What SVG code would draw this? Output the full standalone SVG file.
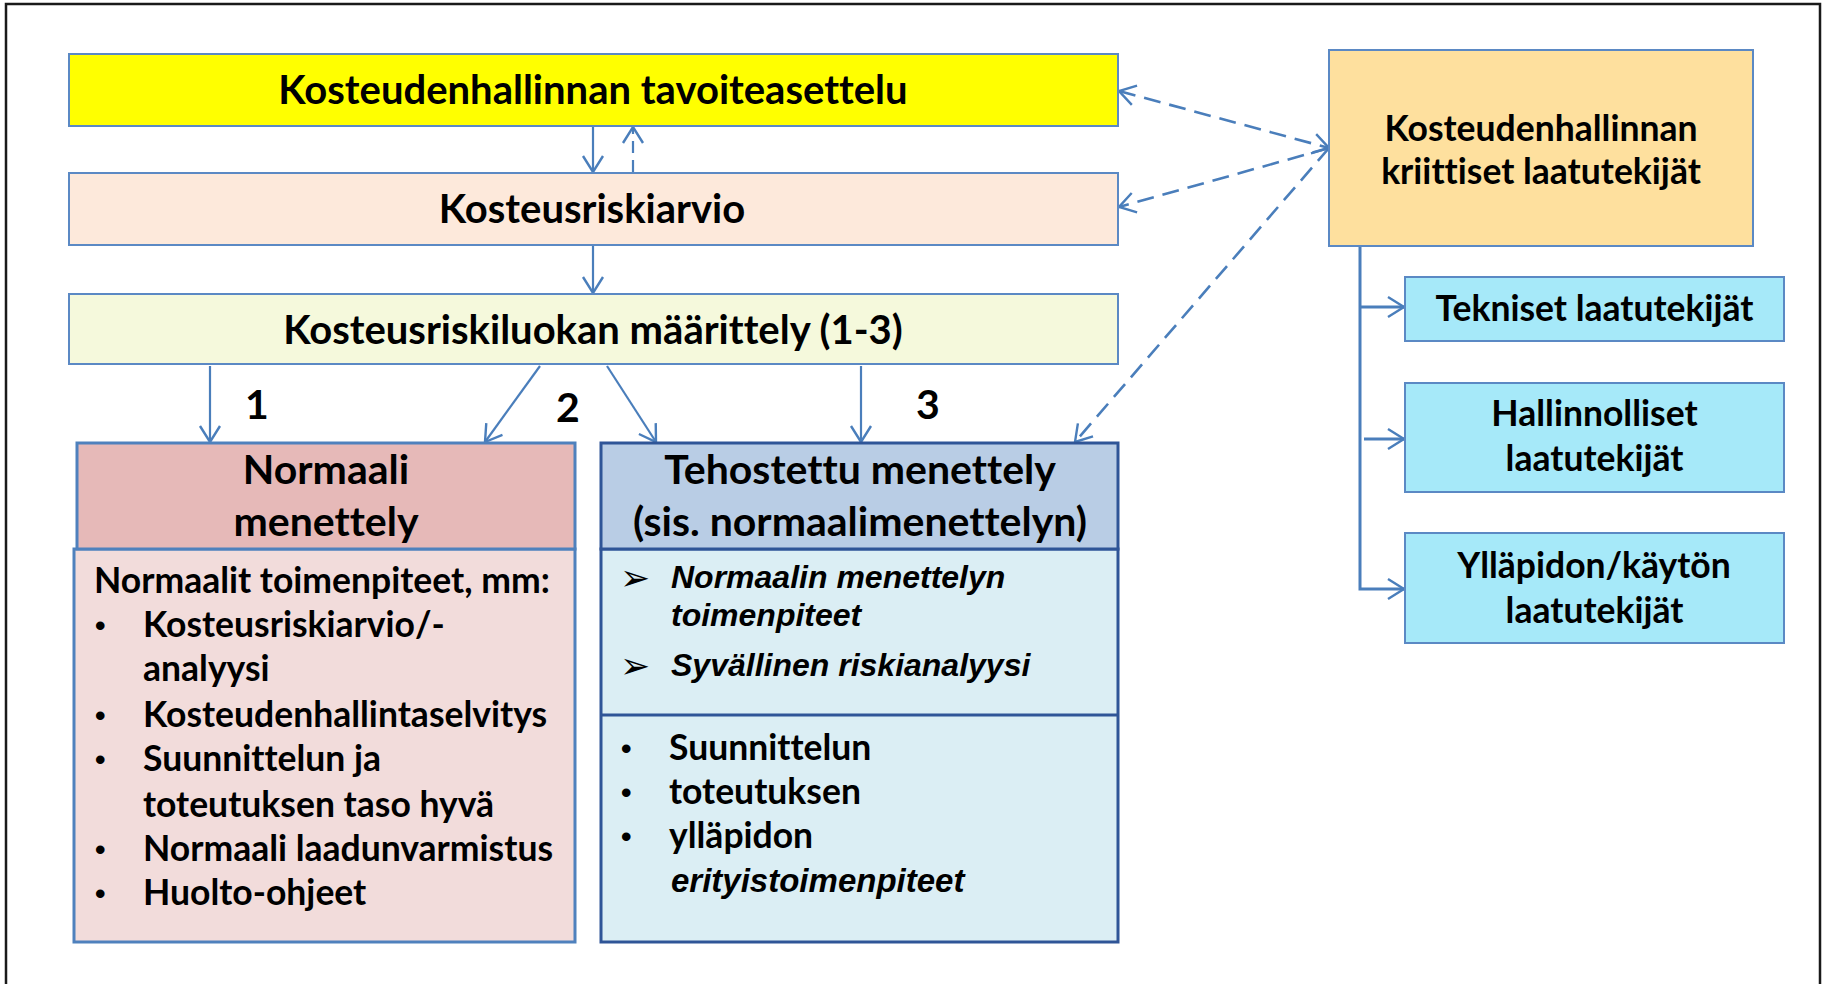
<svg xmlns="http://www.w3.org/2000/svg" width="1822" height="984" viewBox="0 0 1822 984">
<defs>
<style>
text{font-variant-ligatures:none}
.t{font-family:Lato,"Open Sans","Liberation Sans",sans-serif;font-weight:bold;fill:#000;text-anchor:middle}
.big{font-size:40px}
.hd{font-size:41px}
.mid{font-size:35.5px}
.body{font-family:Lato,"Open Sans","Liberation Sans",sans-serif;font-weight:bold;font-size:35.5px;fill:#000}
.bul{font-family:"Liberation Sans",Arial,sans-serif;font-weight:bold;font-size:30px;fill:#000}
.it{font-family:"Liberation Sans",Arial,sans-serif;font-weight:bold;font-style:italic;font-size:32px;fill:#000}
.arrb{font-family:"DejaVu Sans",sans-serif;font-size:36px;fill:#000}
.box{stroke:#5B89C4;stroke-width:2}
.bx2{stroke:#4F81BD;stroke-width:3}
.bx3{stroke:#2F5597;stroke-width:3}
.c{fill:none;stroke:#4A7EBB;stroke-width:2.2}
.d{fill:none;stroke:#4A7EBB;stroke-width:2.6;stroke-dasharray:17 9}
</style>
<marker id="ah" markerUnits="userSpaceOnUse" markerWidth="22" markerHeight="24" viewBox="0 0 22 24" refX="19" refY="12" orient="auto-start-reverse">
<path d="M3,2 L19,12 L3,22" fill="none" stroke="#4A7EBB" stroke-width="2.4"/>
</marker>
</defs>
<rect x="0" y="0" width="1822" height="984" fill="#fff"/>
<path d="M6,990 L6,4 L1820,4 L1820,990" fill="none" stroke="#1a1a1a" stroke-width="2.5"/>

<g id="connectors">
<path class="c" d="M593,126 L593,172" marker-end="url(#ah)"/>
<path class="d" style="stroke-dasharray:12 7;stroke-width:2.2" d="M633,172 L633,127" marker-end="url(#ah)"/>
<path class="c" d="M593,245 L593,293" marker-end="url(#ah)"/>
<path class="c" d="M210,366 L210,442" marker-end="url(#ah)"/>
<path class="c" d="M540,366 L485,442" marker-end="url(#ah)"/>
<path class="c" d="M607,366 L656,442" marker-end="url(#ah)"/>
<path class="c" d="M861,366 L861,442" marker-end="url(#ah)"/>
<path class="d" d="M1119,91 L1329,148" marker-start="url(#ah)" marker-end="url(#ah)"/>
<path class="d" d="M1329,148 L1119,207" marker-end="url(#ah)"/>
<path class="d" d="M1329,148 L1075,442" marker-end="url(#ah)"/>
<path class="c" style="stroke-width:3" d="M1360,246 L1360,589 L1404,589" marker-end="url(#ah)"/>
<path class="c" style="stroke-width:3" d="M1360,307 L1404,307" marker-end="url(#ah)"/>
<path class="c" style="stroke-width:3" d="M1364,439 L1404,439" marker-end="url(#ah)"/>
</g>

<g id="n-tavoite">
<rect class="box" x="69" y="54" width="1049" height="72" fill="#FFFF00"/>
<text class="t big" x="593" y="104">Kosteudenhallinnan tavoiteasettelu</text>
</g>
<g id="n-riskiarvio">
<rect class="box" x="69" y="173" width="1049" height="72" fill="#FDE9DB"/>
<text class="t big" x="592" y="223">Kosteusriskiarvio</text>
</g>
<g id="n-luokka">
<rect class="box" x="69" y="294" width="1049" height="70" fill="#F5F9DC"/>
<text class="t big" x="593" y="344">Kosteusriskiluokan määrittely (1-3)</text>
</g>

<g id="labels">
<text class="t hd" x="257" y="419">1</text>
<text class="t hd" x="568" y="422">2</text>
<text class="t hd" x="928" y="419">3</text>
</g>

<g id="n-kriittiset">
<rect class="box" x="1329" y="50" width="424" height="196" fill="#FEE09E"/>
<text class="t mid" x="1541" y="141">Kosteudenhallinnan</text>
<text class="t mid" x="1541" y="184">kriittiset laatutekijät</text>
</g>
<g id="n-tekniset">
<rect class="box" x="1405" y="277" width="379" height="64" fill="#A6E9F9"/>
<text class="t mid" x="1594.5" y="321">Tekniset laatutekijät</text>
</g>
<g id="n-hallinnolliset">
<rect class="box" x="1405" y="383" width="379" height="109" fill="#A6E9F9"/>
<text class="t mid" x="1594.5" y="426">Hallinnolliset</text>
<text class="t mid" x="1594.5" y="471">laatutekijät</text>
</g>
<g id="n-yllapidon">
<rect class="box" x="1405" y="533" width="379" height="110" fill="#A6E9F9"/>
<text class="t mid" x="1594" y="578">Ylläpidon/käytön</text>
<text class="t mid" x="1594.5" y="623">laatutekijät</text>
</g>

<g id="n-normaali">
<rect class="bx2" x="74" y="549" width="501" height="393" fill="#F2DCDB"/>
<rect class="bx2" x="77" y="443" width="498" height="106" fill="#E6B9B8"/>
<text class="t hd" x="326" y="484">Normaali</text>
<text class="t hd" x="326" y="536">menettely</text>
<text class="body" x="94" y="593">Normaalit toimenpiteet, mm:</text>
<text class="bul" x="95" y="636">•</text><text class="body" x="143" y="637">Kosteusriskiarvio/-</text>
<text class="body" x="143" y="681">analyysi</text>
<text class="bul" x="95" y="726">•</text><text class="body" x="143" y="727">Kosteudenhallintaselvitys</text>
<text class="bul" x="95" y="770">•</text><text class="body" x="143" y="771">Suunnittelun ja</text>
<text class="body" x="143" y="817">toteutuksen taso hyvä</text>
<text class="bul" x="95" y="860">•</text><text class="body" x="143" y="861">Normaali laadunvarmistus</text>
<text class="bul" x="95" y="904">•</text><text class="body" x="143" y="905">Huolto-ohjeet</text>
</g>

<g id="n-tehostettu">
<rect class="bx3" x="601" y="549" width="517" height="393" fill="#DBEEF4"/>
<line class="bx3" x1="601" y1="715" x2="1118" y2="715"/>
<rect class="bx3" x="601" y="443" width="517" height="106" fill="#B9CDE5"/>
<text class="t hd" x="860" y="484">Tehostettu menettely</text>
<text class="t hd" x="860" y="536">(sis. normaalimenettelyn)</text>
<text class="arrb" x="620" y="590">➢</text>
<text class="it" x="671" y="588">Normaalin menettelyn</text>
<text class="it" x="671" y="626">toimenpiteet</text>
<text class="arrb" x="620" y="678">➢</text>
<text class="it" x="671" y="676">Syvällinen riskianalyysi</text>
<text class="bul" x="621" y="759">•</text><text class="body" x="669" y="760">Suunnittelun</text>
<text class="bul" x="621" y="803">•</text><text class="body" x="669" y="804">toteutuksen</text>
<text class="bul" x="621" y="847">•</text><text class="body" x="669" y="848">ylläpidon</text>
<text class="it" x="671" y="892" style="font-size:33px">erityistoimenpiteet</text>
</g>
</svg>
